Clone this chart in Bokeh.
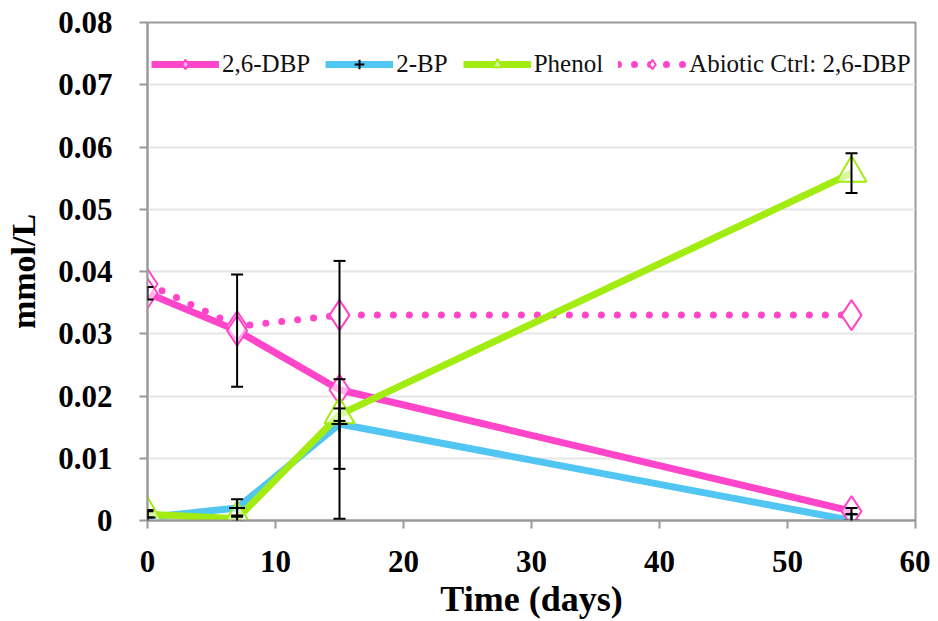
from bokeh.plotting import figure
from bokeh.models import Range1d, ColumnDataSource, Whisker, TeeHead, Legend, LegendItem, FixedTicker
from bokeh.embed import file_html
from bokeh.resources import INLINE

days = [0, 7, 15, 55]
dbp = [0.0365, 0.0305, 0.0210, 0.0015]
dbp_err = [0.0010, 0.0090, 0.0207, 0.0005]
bp = [0.0005, 0.0020, 0.0155, 0.0000]
bp_err = [0.0012, 0.0014, 0.0072, 0.0010]
phenol = [0.0010, 0.0003, 0.0170, 0.0558]
phenol_err = [0.0005, 0.0005, 0.0010, 0.0032]
abiotic = [0.0380, 0.0312, 0.0330, 0.0330]

x_ticks = [0, 10, 20, 30, 40, 50, 60]
y_ticks = [0, 0.01, 0.02, 0.03, 0.04, 0.05, 0.06, 0.07, 0.08]

PINK = "#FF45C9"
BLUE = "#52C6F2"
GREEN = "#A3EC12"

p = figure(width=930, height=621, output_backend="svg", toolbar_location=None,
           x_range=Range1d(0, 60), y_range=Range1d(0, 0.08),
           min_border_left=147, min_border_right=15, min_border_top=22, min_border_bottom=100)
p.background_fill_color = "white"
p.border_fill_color = "white"
p.outline_line_color = "#999999"
p.outline_line_width = 2

p.xgrid.visible = False
p.ygrid.grid_line_color = "#E6E6E6"
p.ygrid.grid_line_width = 2
p.ygrid.ticker = FixedTicker(ticks=y_ticks)

FONT = "Liberation Serif"
for ax in (p.xaxis[0], p.yaxis[0]):
    ax.major_label_text_font = FONT
    ax.major_label_text_font_style = "bold"
    ax.major_label_text_font_size = "31px"
    ax.major_label_text_color = "black"
    ax.axis_label_text_font = FONT
    ax.axis_label_text_font_style = "bold"
    ax.axis_label_text_color = "black"
    ax.axis_line_color = "#999999"
    ax.axis_line_width = 2
    ax.major_tick_line_color = "#999999"
    ax.major_tick_line_width = 2
    ax.major_tick_in = 0
    ax.major_tick_out = 8
    ax.minor_tick_line_color = None

p.xaxis.axis_label_text_font_size = "36px"
p.yaxis.axis_label_text_font_size = "34px"
p.xaxis.ticker = FixedTicker(ticks=x_ticks)
p.yaxis.ticker = FixedTicker(ticks=y_ticks)
p.yaxis.major_label_overrides = {t: ("0" if t == 0 else f"{t:.2f}") for t in y_ticks}
p.xaxis.axis_label = "Time (days)"
p.yaxis.axis_label = "mmol/L"
p.xaxis.major_label_standoff = 22
p.yaxis.major_label_standoff = 27
p.xaxis.axis_label_standoff = 4
p.yaxis.axis_label_standoff = 13

src = ColumnDataSource(dict(x=days, dbp=dbp, bp=bp, phenol=phenol, abiotic=abiotic,
                            dbp_lo=[v - e for v, e in zip(dbp, dbp_err)],
                            dbp_hi=[v + e for v, e in zip(dbp, dbp_err)],
                            bp_lo=[v - e for v, e in zip(bp, bp_err)],
                            bp_hi=[v + e for v, e in zip(bp, bp_err)],
                            ph_lo=[v - e for v, e in zip(phenol, phenol_err)],
                            ph_hi=[v + e for v, e in zip(phenol, phenol_err)]))

l_ab = p.line("x", "abiotic", source=src, line_color=PINK, line_width=7,
              line_dash="0 16", line_cap="round")
l_dbp = p.line("x", "dbp", source=src, line_color=PINK, line_width=7)
l_bp = p.line("x", "bp", source=src, line_color=BLUE, line_width=7)
l_ph = p.line("x", "phenol", source=src, line_color=GREEN, line_width=7)

m_ab = p.scatter("x", "abiotic", source=src, marker="diamond", size=30,
                 line_color=PINK, fill_color="white", line_width=2)
m_dbp = p.scatter("x", "dbp", source=src, marker="diamond", size=30,
                  line_color=PINK, fill_color="white", fill_alpha=0.6, line_width=2)
m_ph = p.scatter("x", "phenol", source=src, marker="triangle", size=30,
                 line_color=GREEN, fill_color="white", fill_alpha=0.6, line_width=2)
m_bp = p.scatter("x", "bp", source=src, marker="cross", size=16,
                 line_color="black", line_width=2)

for lo, hi in (("dbp_lo", "dbp_hi"), ("bp_lo", "bp_hi"), ("ph_lo", "ph_hi")):
    w = Whisker(source=src, base="x", lower=lo, upper=hi, line_color="black", line_width=2,
                upper_head=TeeHead(size=12, line_color="black", line_width=2),
                lower_head=TeeHead(size=12, line_color="black", line_width=2))
    w.level = "overlay"
    p.add_layout(w)

legend = Legend(items=[
    LegendItem(label="2,6-DBP", renderers=[l_dbp, m_dbp]),
    LegendItem(label="2-BP", renderers=[l_bp, m_bp]),
    LegendItem(label="Phenol", renderers=[l_ph, m_ph]),
    LegendItem(label="Abiotic Ctrl: 2,6-DBP", renderers=[l_ab, m_ab]),
], orientation="horizontal", location=(4, 442))
legend.margin = 0
legend.padding = 6
legend.spacing = 15
legend.glyph_width = 68
legend.glyph_height = 24
legend.label_standoff = 3
legend.label_text_font = FONT
legend.label_text_font_size = "25px"
legend.label_text_color = "#111111"
legend.border_line_color = None
legend.background_fill_color = "white"
legend.background_fill_alpha = 1.0
p.add_layout(legend)

open("out.html", "w").write(file_html(p, INLINE))
